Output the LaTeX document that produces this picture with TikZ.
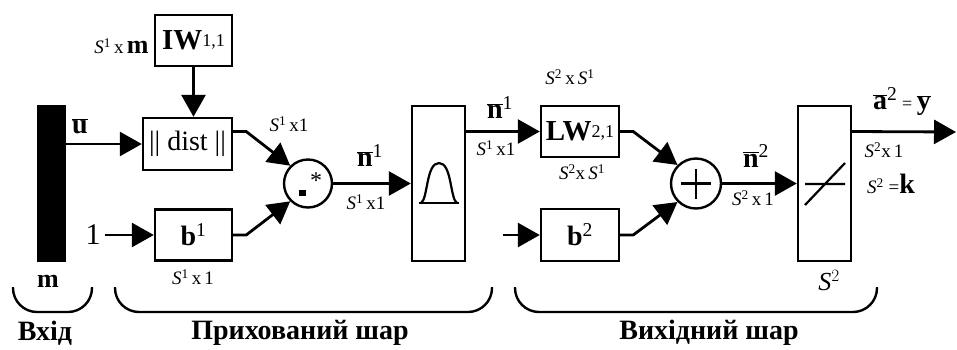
\documentclass[tikz,border=0pt]{standalone}
\usepackage{fontspec}
\setmainfont{Liberation Serif}
\usetikzlibrary{arrows.meta}
\newcommand{\vecbar}[1]{$\overline{\mbox{\textbf{#1}}}$}
\newcommand{\ssz}[1]{\textit{S}\textsuperscript{#1}}
\newcommand{\idx}[1]{\raisebox{3pt}{\fontsize{18}{20}\selectfont #1}}

\begin{document}
\begin{tikzpicture}[x=1pt, y=-1pt,
    blk/.style={draw, line width=2.4pt, minimum width=77pt, minimum height=51pt, inner sep=0pt},
    tall/.style={draw, line width=2.4pt, minimum width=53pt, minimum height=155pt, inner sep=0pt},
    sum/.style={draw, circle, line width=2.4pt, minimum size=48pt, inner sep=0pt},
    conn/.style={line width=2.8pt, -{Triangle[length=22pt,width=24pt]}},
    brc/.style={line width=2.4pt, rounded corners=24pt},
    big/.style={font=\fontsize{28}{30}\selectfont},
    sml/.style={font=\fontsize{19}{21}\selectfont},
    capt/.style={font=\fontsize{28}{30}\selectfont\bfseries}]
    \useasboundingbox (0,0) rectangle (957,349);

    % Вхід
    \node[fill, minimum width=29pt, minimum height=157pt, inner sep=0pt] (inbar) at (51.5,183.5) {};
    \node[big] (ulab) at (80,126) {\vecbar{u}};
    \node[font=\fontsize{30}{32}\selectfont, inner sep=4pt] (one) at (93,235) {1};

    % Прихований шар
    \node[blk, font=\fontsize{29}{31}\selectfont] (IW) at (193.5,40.5) {\textbf{IW}\idx{1,1}};
    \node[sml, anchor=east] (IWsz) at (152,46) {\ssz{1}\,x\,\fontsize{26}{28}\selectfont\textbf{m}};
    \node[blk, big, minimum width=89pt, minimum height=52pt] (dist) at (187.5,144) {|| dist ||};
    \node[blk, big] (b1) at (193.5,235) {\textbf{b}\textsuperscript{1}};
    \node[sml] (b1sz) at (193,277) {\ssz{1}\,x\,1};
    \node[sum] (dotstar) at (308,183.5) {};
    \node[sml] (dsz) at (289,124) {\ssz{1}\,x1};
    \node[tall] (radbas) at (438.5,183.5) {};
    \node[big] (n1a) at (370,156) {\vecbar{n}\textsuperscript{1}};
    \node[sml] (n1asz) at (366,202) {\ssz{1}\,x1};

    % Вихідний шар
    \node[blk, font=\fontsize{29}{31}\selectfont, minimum width=78pt] (LW) at (580,131.5) {\textbf{LW}\idx{2,1}};
    \node[sml] (LWsza) at (570,77) {\ssz{2}\,x\,\ssz{1}};
    \node[sml] (LWszb) at (582,172) {\ssz{2}x\,\ssz{1}};
    \node[big] (n1b) at (500,108) {\vecbar{n}\textsuperscript{1}};
    \node[sml] (n1bsz) at (496,148) {\ssz{1}\,x1};
    \node[blk, big, minimum width=78pt, minimum height=52pt] (b2) at (580,235) {\textbf{b}\textsuperscript{2}};
    \coordinate (b2in) at (503,235);
    \node[sum, minimum size=50pt] (plus) at (696,183.5) {};
    \node[big] (n2) at (756,156) {\vecbar{n}\textsuperscript{2}};
    \node[sml] (n2sz) at (753,198) {\ssz{2}\,x\,1};
    \node[tall] (lin) at (824.5,183.5) {};
    \node[font=\fontsize{26}{28}\selectfont] (Ssz) at (829,281) {\textit{S}$^2$};
    \node[big] (ylab) at (902,102) {\vecbar{a}\textsuperscript{2}\,{\fontsize{18}{20}\selectfont =}\,\vecbar{y}};
    \node[sml] (ysz) at (884,150) {\ssz{2}x\,1};
    \node[sml] (keq) at (891,184) {\ssz{2} =\fontsize{28}{30}\selectfont\textbf{k}};
    \coordinate (yout) at (956,132);

    % Знаки всередині блоків
    \node[font=\fontsize{24}{26}\selectfont] at (316,181) {*};
    \fill (299,190) rectangle (306,196);
    \draw[line width=2.4pt] (681,183.5) -- (711,183.5) (696,168.5) -- (696,198.5);
    \draw[line width=2.2pt] (419,203) -- (459,203);
    \draw[line width=2.2pt] (421,203) .. controls (428,199) and (426,163) .. (439,163) .. controls (452,163) and (450,199) .. (457,203);
    \draw[line width=2.2pt] (805,184) -- (845,184) (805,205) -- (845,163);

    % Зв'язки
    \draw[conn] (inbar.east |- dist.west) -- (dist.west);
    \draw[conn] (IW.south) -- (IW.south |- dist.north);
    \draw[conn] (one.east) -- (b1.west);
    \draw[conn] (dist.east |- LW.west) -- ++(13,0) -- (dotstar.135);
    \draw[conn] (b1.east) -- ++(13,0) -- (dotstar.225);
    \draw[conn] (dotstar) -- (radbas);
    \draw[conn] (radbas.east |- LW.west) -- (LW.west);
    \draw[conn] (b2in) -- (b2.west);
    \draw[conn] (LW.east) -- ++(13,0) -- (plus.135);
    \draw[conn] (b2.east) -- ++(13,0) -- (plus.225);
    \draw[conn] (plus) -- (lin);
    \draw[conn] (lin.east |- LW.west) -- (yout);

    % Дужки
    \node[font=\fontsize{26}{28}\selectfont\bfseries] (mlab) at (48,281) {m};
    \draw[brc] (13,287) -- (13,312) -- (92,312) -- (92,287);
    \draw[brc] (115,287) -- (115,312) -- (492,312) -- (492,287);
    \draw[brc] (515,287) -- (515,312) -- (877,312) -- (877,287);
    \node[capt] (inlab) at (45,333) {Вхід};
    \node[capt] (hidlab) at (300,333) {Прихований шар};
    \node[capt] (outlab) at (709,333) {Вихідний шар};
\end{tikzpicture}
\end{document}
